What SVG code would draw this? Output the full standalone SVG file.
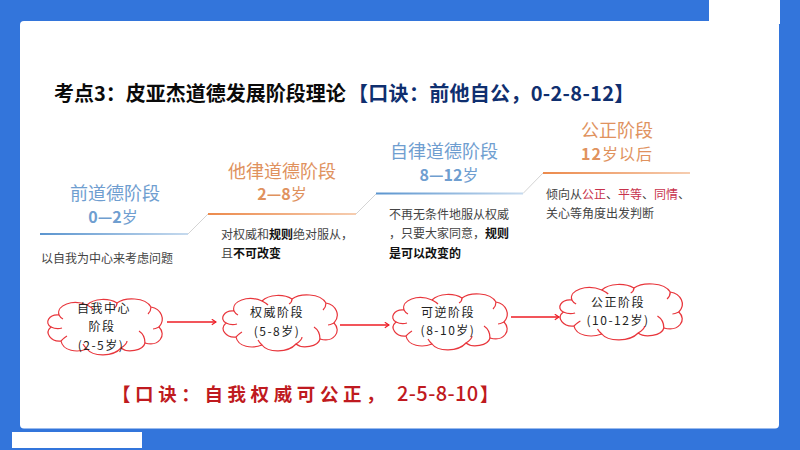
<svg xmlns="http://www.w3.org/2000/svg" xmlns:xlink="http://www.w3.org/1999/xlink" width="800" height="450" viewBox="0 0 800 450">
<style>
text{font-family:"Noto Sans CJK SC","Liberation Sans",sans-serif}
.title{font-size:20px;font-weight:700;fill:#0a0a0a}
.tb{fill:#0f2f6f;letter-spacing:.3px}
.st{font-size:18px;text-anchor:middle}
.ag{font-size:16px;font-weight:700;text-anchor:middle}
.ag .y{font-weight:400}
.blue{fill:#6f9ed0}
.or{fill:#e0925e}
.d{font-size:12px;fill:#444}
.d .b{font-weight:700;fill:#111}
.d .r{fill:#c8324c}
.c{font-size:12px;fill:#222;text-anchor:middle;letter-spacing:1.5px}
.cl{fill:#fff;stroke:#e8363c;stroke-width:1.2}
.cd{fill:none;stroke:#e8363c;stroke-width:1.2}
.ar{fill:none;stroke:#ee1c25;stroke-width:1.6;marker-end:url(#ah)}
.k{font-size:18.5px;font-weight:700;fill:#bf1a20;letter-spacing:4.6px}
.kn{font-size:20px;font-weight:500;fill:#bf1a20;letter-spacing:.4px}
</style>
<defs>
<marker id="ah" viewBox="0 0 8 10" refX="7" refY="5" markerWidth="6" markerHeight="7" markerUnits="userSpaceOnUse" orient="auto"><path d="M1 1L7 5L1 9" fill="none" stroke="#ee1c25" stroke-width="1.6"/></marker>
<linearGradient id="gb" x1="0" x2="1" y1="0" y2="0"><stop offset="0" stop-color="#5b95cf"/><stop offset="1" stop-color="#c6daee"/></linearGradient>
<linearGradient id="go" x1="0" x2="1" y1="0" y2="0"><stop offset="0" stop-color="#ec8a4c"/><stop offset="1" stop-color="#f6cdb0"/></linearGradient>
<g id="cloud">
<path class="cl" d="M12 16C9 6 26 0 40 6C47 -1 62 -1 70 4C78 -2 98 -2 104 8C114 10 119 20 112 28C120 36 112 48 98 44C96 52 80 54 74 49C66 58 46 58 40 50C30 54 16 52 14 42C4 43 -3 34 4 28C-3 24 2 15 12 16Z"/>
<path class="cd" d="M4 28C8 30 12 30 15 29M14 42C16 40 18 38 20 37M40 50C38 48 37 47 36 45M74 49C77 47 80 45 80 42M98 44C98 38 95 34 92 32M112 28C110 29 108 30 106 30M104 8C104 11 103 13 101 15M70 4C70 6 69 8 67 9M40 6C42 7 44 8 46 10M12 16C13 18 14 19 16 20"/>
</g>
</defs>

<g id="background">
<rect width="800" height="450" fill="#3375db"/>
<rect x="709" y="0" width="71" height="24" fill="#fff"/>
<rect x="20" y="21" width="759" height="407.500" rx="4" fill="#fff"/>
<rect x="12" y="432" width="130" height="16" fill="#fff"/>
</g>

<g id="title"><text class="title" x="54" y="100.500">考点3：皮亚杰道德发展阶段理论<tspan class="tb" x="348">【口诀：前他自公，0-2-8-12】</tspan></text></g>

<g id="connectors">
<path d="M188 234L208 214" stroke="#d4d4d4" stroke-width="1" fill="none"/>
<path d="M356 214L376 194" stroke="#d4d4d4" stroke-width="1" fill="none"/>
<path d="M523 193.500L543 173" stroke="#d4d4d4" stroke-width="1" fill="none"/>
<path class="ar" d="M167 322H216"/>
<path class="ar" d="M340 325H389"/>
<path class="ar" d="M511 317H559"/>
</g>

<g id="stage-1">
<rect x="40" y="233" width="148" height="2" fill="url(#gb)"/>
<text class="st blue" x="115" y="200">前道德阶段</text>
<text class="ag blue" x="113" y="222.500">0—2<tspan class="y">岁</tspan></text>
<text class="d" x="41" y="263">以自我为中心来考虑问题</text>
</g>
<g id="stage-2">
<rect x="208" y="213" width="148" height="2" fill="url(#go)"/>
<text class="st or" x="282" y="177.500">他律道德阶段</text>
<text class="ag or" x="282" y="200">2—8<tspan class="y">岁</tspan></text>
<text class="d" x="221" y="239">对权威和<tspan class="b">规则</tspan>绝对服从，</text>
<text class="d" x="221" y="258">且<tspan class="b">不可改变</tspan></text>
</g>
<g id="stage-3">
<rect x="376" y="192.500" width="147" height="2" fill="url(#gb)"/>
<text class="st blue" x="444" y="158">自律道德阶段</text>
<text class="ag blue" x="449" y="180.500">8—12<tspan class="y">岁</tspan></text>
<text class="d" x="389" y="219">不再无条件地服从权威</text>
<text class="d" x="389" y="238">，只要大家同意，<tspan class="b">规则</tspan></text>
<text class="d" x="389" y="258"><tspan class="b">是可以改变的</tspan></text>
</g>
<g id="stage-4">
<rect x="543" y="172" width="147" height="2" fill="url(#go)"/>
<text class="st or" x="617" y="137">公正阶段</text>
<text class="ag or" x="617" y="159.500" style="letter-spacing:1px">12<tspan class="y">岁以后</tspan></text>
<text class="d" x="546" y="199">倾向从<tspan class="r">公正</tspan>、<tspan class="r">平等</tspan>、<tspan class="r">同情</tspan>、</text>
<text class="d" x="546" y="218">关心等角度出发判断</text>
</g>

<g id="cloud-1"><use xlink:href="#cloud" href="#cloud" transform="translate(47 299)"/>
<text class="c" x="104" y="313">自我中心</text><text class="c" x="102" y="331">阶段</text><text class="c" x="101" y="350">(2-5岁)</text></g>
<g id="cloud-2"><use xlink:href="#cloud" href="#cloud" transform="translate(222 295)"/>
<text class="c" x="277" y="317">权威阶段</text><text class="c" x="277" y="336">(5-8岁)</text></g>
<g id="cloud-3"><use xlink:href="#cloud" href="#cloud" transform="translate(392 294)"/>
<text class="c" x="448" y="317">可逆阶段</text><text class="c" x="448" y="335">(8-10岁)</text></g>
<g id="cloud-4"><use xlink:href="#cloud" href="#cloud" transform="translate(559 284) scale(1.07 1)"/>
<text class="c" x="618" y="307">公正阶段</text><text class="c" x="618" y="325">(10-12岁)</text></g>

<g id="mnemonic">
<text class="k" x="112" y="401">【口诀：自我权威可公正，</text>
<text class="kn" x="397" y="401">2-5-8-10</text>
<text class="k" x="480" y="401">】</text>
</g>
</svg>
